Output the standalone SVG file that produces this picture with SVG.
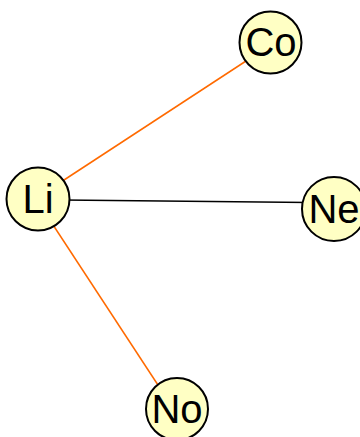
<svg xmlns="http://www.w3.org/2000/svg" width="360" height="437" viewBox="0 0 360 437">
<style>
.n circle{fill:#ffffc4;stroke:#000;stroke-width:2}
.n text{font-family:"Liberation Sans",Arial,sans-serif;font-size:40px;text-anchor:middle;fill:#000}
.e line{stroke-width:1.5}
.o{stroke:#ff6a00}
.b{stroke:#000}
</style>
<rect width="360" height="437" fill="#fff"/>
<g id="edges" class="e">
<line class="o" x1="38" y1="197" x2="270.5" y2="45"/>
<line class="b" x1="38" y1="199.7" x2="334" y2="202.7"/>
<line class="o" x1="40" y1="205" x2="175" y2="411"/>
</g>
<g id="Co" class="n"><circle cx="270.5" cy="42.5" r="31"/><text x="271" y="55.5">Co</text></g>
<g id="Li" class="n"><circle cx="38" cy="199" r="31.5"/><text x="38" y="213">Li</text></g>
<g id="Ne" class="n"><circle cx="334" cy="209" r="32"/><text x="334" y="222.5">Ne</text></g>
<g id="No" class="n"><circle cx="177" cy="409" r="31"/><text x="177" y="423">No</text></g>
</svg>
